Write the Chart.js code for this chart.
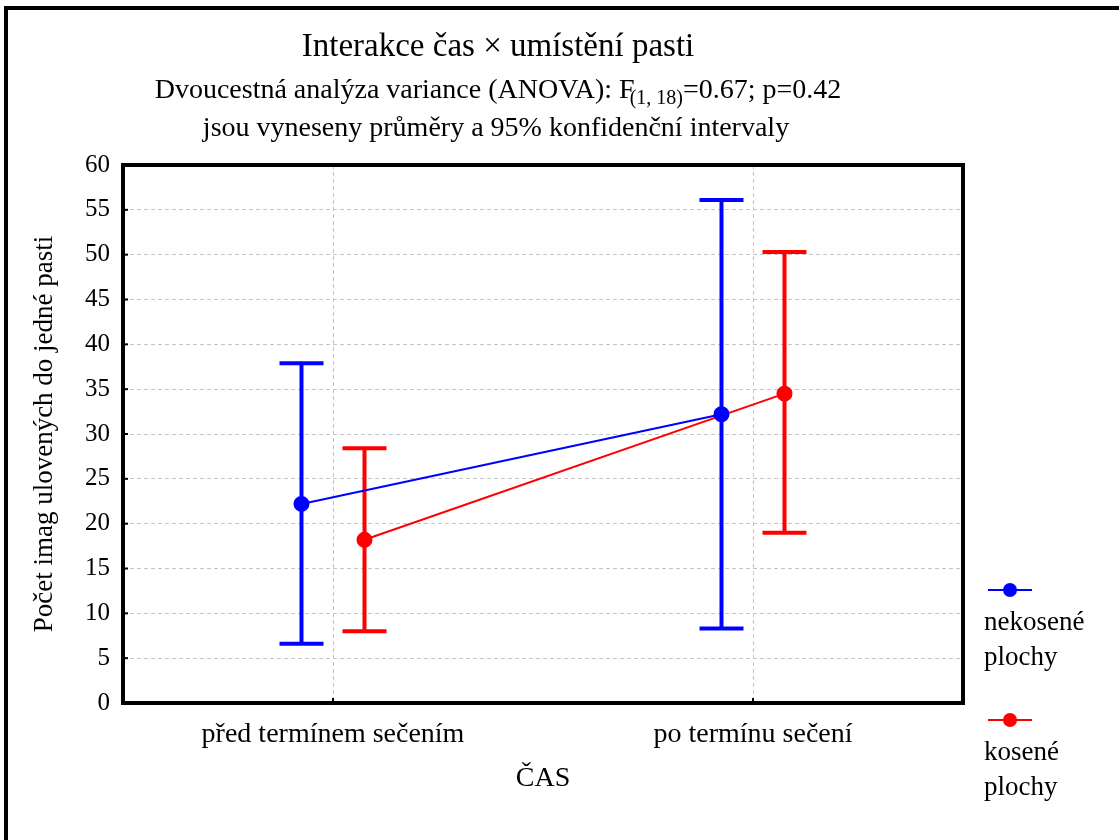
<!DOCTYPE html>
<html>
<head>
<meta charset="utf-8">
<script src="https://cdn.jsdelivr.net/npm/chart.js@4.4.0/dist/chart.umd.min.js"></script>
<style>
  body { margin: 0; background: #fff; }
  #wrap { width: 1119px; height: 840px; position: relative; }
</style>
</head>
<body>
<div id="wrap"><canvas id="anovaChart"></canvas></div>
<script>
// data
var categories = ["před termínem sečením", "po termínu sečení"];
var seriesNames = [["nekosené", "plochy"], ["kosené", "plochy"]];
var meansNekosene = [22.2, 32.2];
var lowNekosene = [6.6, 8.3];
var highNekosene = [37.9, 56.1];
var meansKosene = [18.2, 34.5];
var lowKosene = [8.0, 19.0];
var highKosene = [28.4, 50.3];
var yTicks = [0, 5, 10, 15, 20, 25, 30, 35, 40, 45, 50, 55, 60];

var serif = "'Liberation Serif', 'DejaVu Serif', serif";
var colors = ["#0000ff", "#ff0000"];
var shift = [-0.075, 0.075];

function points(means, k) {
  return means.map(function (m, i) { return { x: i + shift[k], y: m }; });
}

var bars = [
  { low: lowNekosene, high: highNekosene },
  { low: lowKosene, high: highKosene }
];

// error bars drawn via the chart scales
var errorBars = {
  id: 'errorBars',
  beforeDatasetsDraw: function (chart) {
    var ctx = chart.ctx, xs = chart.scales.x, ys = chart.scales.y;
    ctx.save();
    ctx.lineWidth = 4;
    ctx.lineCap = 'butt';
    bars.forEach(function (b, k) {
      ctx.strokeStyle = colors[k];
      b.low.forEach(function (lo, i) {
        var px = xs.getPixelForValue(i + shift[k]);
        var y1 = ys.getPixelForValue(lo), y2 = ys.getPixelForValue(b.high[i]);
        ctx.beginPath();
        ctx.moveTo(px, y1); ctx.lineTo(px, y2);
        ctx.moveTo(px - 22, y1); ctx.lineTo(px + 22, y1);
        ctx.moveTo(px - 22, y2); ctx.lineTo(px + 22, y2);
        ctx.stroke();
      });
    });
    ctx.restore();
  }
};

// titles, frames and the legend at right
var decor = {
  id: 'decor',
  afterDraw: function (chart) {
    var ctx = chart.ctx, a = chart.chartArea;
    ctx.save();
    // outer frame (top and left only)
    ctx.fillStyle = '#000';
    ctx.fillRect(5, 6, 1114, 4);
    ctx.fillRect(4, 6, 4, 834);
    // plot frame
    ctx.strokeStyle = '#000';
    ctx.lineWidth = 4;
    ctx.strokeRect(a.left, a.top, a.right - a.left, a.bottom - a.top);
    // small ticks inside
    ctx.lineWidth = 2;
    chart.scales.y.ticks.forEach(function (t) {
      var py = chart.scales.y.getPixelForValue(t.value);
      ctx.beginPath(); ctx.moveTo(a.left, py); ctx.lineTo(a.left + 5, py); ctx.stroke();
    });
    chart.scales.x.ticks.forEach(function (t) {
      var px = chart.scales.x.getPixelForValue(t.value);
      ctx.beginPath(); ctx.moveTo(px, a.bottom); ctx.lineTo(px, a.bottom - 5); ctx.stroke();
    });

    ctx.fillStyle = '#000';
    ctx.textBaseline = 'middle';
    ctx.textAlign = 'center';
    ctx.font = '33px ' + serif;
    ctx.fillText('Interakce čas × umístění pasti', 498, 47);

    // subtitle with subscript
    var p1 = 'Dvoucestná analýza variance (ANOVA): F';
    var sub = '(1, 18)';
    var p2 = '=0.67; p=0.42';
    ctx.font = '28px ' + serif;
    var w1 = ctx.measureText(p1).width, w3 = ctx.measureText(p2).width;
    ctx.font = '20px ' + serif;
    var w2 = ctx.measureText(sub).width;
    var x0 = 498 - (w1 + w2 + w3 - 5) / 2;
    ctx.textAlign = 'left';
    ctx.font = '28px ' + serif;
    ctx.fillText(p1, x0, 91);
    ctx.font = '20px ' + serif;
    ctx.fillText(sub, x0 + w1 - 5, 99);
    ctx.font = '28px ' + serif;
    ctx.fillText(p2, x0 + w1 + w2 - 5, 91);
    ctx.textAlign = 'center';
    ctx.fillText('jsou vyneseny průměry a 95% konfidenční intervaly', 496, 129);

    // legend
    var legendY = [590, 720];
    ctx.textAlign = 'left';
    ctx.font = '27px ' + serif;
    seriesNames.forEach(function (lines, k) {
      var ly = legendY[k];
      ctx.strokeStyle = colors[k];
      ctx.fillStyle = colors[k];
      ctx.lineWidth = 2;
      ctx.beginPath(); ctx.moveTo(988, ly); ctx.lineTo(1032, ly); ctx.stroke();
      ctx.beginPath(); ctx.arc(1010, ly, 7, 0, Math.PI * 2); ctx.fill();
      ctx.fillStyle = '#000';
      lines.forEach(function (txt, j) {
        ctx.fillText(txt, 984, ly + 33 + j * 35);
      });
    });
    ctx.restore();
  }
};

var ctxC = document.getElementById("anovaChart").getContext('2d');
var anovaChart = new Chart(ctxC, {
  type: 'line',
  data: {
    datasets: [
      {
        label: seriesNames[0].join(' '),
        data: points(meansNekosene, 0),
        borderColor: colors[0],
        backgroundColor: colors[0],
        borderWidth: 2,
        pointRadius: 7,
        pointHoverRadius: 7
      },
      {
        label: seriesNames[1].join(' '),
        data: points(meansKosene, 1),
        borderColor: colors[1],
        backgroundColor: colors[1],
        borderWidth: 2,
        pointRadius: 7,
        pointHoverRadius: 7
      }
    ]
  },
  options: {
    responsive: true,
    maintainAspectRatio: false,
    animation: false,
    layout: { padding: { top: 165, right: 156, left: 0, bottom: 0 } },
    plugins: {
      legend: { display: false },
      tooltip: { enabled: false }
    },
    scales: {
      x: {
        type: 'linear',
        min: -0.5,
        max: 1.5,
        afterBuildTicks: function (scale) {
          scale.ticks = categories.map(function (c, i) { return { value: i }; });
        },
        afterFit: function (scale) { scale.height = 137; },
        ticks: {
          callback: function (v) { return categories[v]; },
          color: '#000',
          font: { family: serif, size: 28 },
          padding: 15,
          maxRotation: 0,
          autoSkip: false
        },
        grid: { color: '#c4c4c4', drawTicks: false, tickLength: 0 },
        border: { display: false, dash: [4, 3] },
        title: {
          display: true,
          text: 'ČAS',
          color: '#000',
          font: { family: serif, size: 28 },
          padding: { bottom: 45 }
        }
      },
      y: {
        min: 0,
        max: 60,
        afterBuildTicks: function (scale) {
          scale.ticks = yTicks.map(function (v) { return { value: v }; });
        },
        afterFit: function (scale) { scale.width = 123; },
        ticks: {
          color: '#000',
          font: { family: serif, size: 25 },
          padding: 13
        },
        grid: { color: '#c4c4c4', drawTicks: false, tickLength: 0 },
        border: { display: false, dash: [4, 3] },
        title: {
          display: true,
          text: 'Počet imag ulovených do jedné pasti',
          color: '#000',
          font: { family: serif, size: 27 },
          padding: { top: 29 }
        }
      }
    }
  },
  plugins: [errorBars, decor]
});
</script>
</body>
</html>
